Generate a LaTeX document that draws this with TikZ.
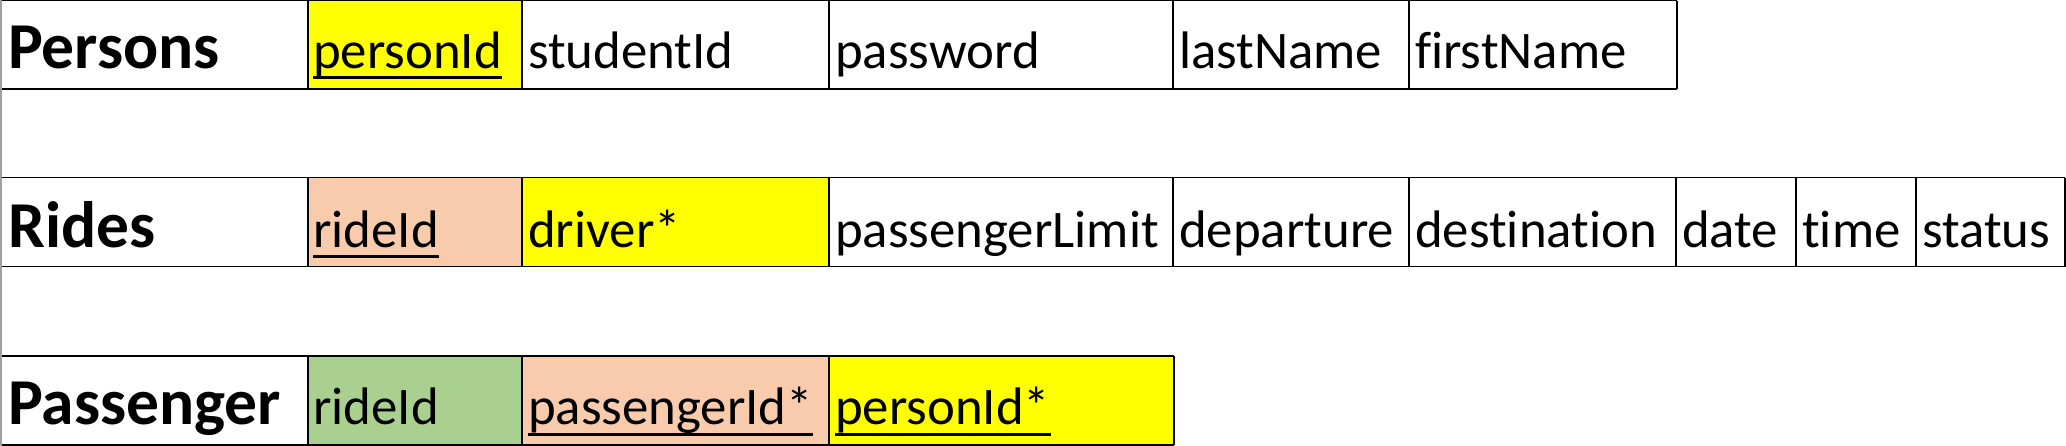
\documentclass[tikz,border=0pt]{standalone}
\usepackage{fontspec}
\setmainfont{Carlito}[Ligatures=NoCommon]
\definecolor{keyyellow}{HTML}{FFFF00}
\definecolor{keypeach}{HTML}{F8CBAD}
\definecolor{keygreen}{HTML}{A9D08E}
\definecolor{edgegray}{HTML}{A0A0A0}
\tikzset{
  cellbox/.style={draw=black, line width=1.3pt},
  fld/.style={anchor=base west, inner sep=0pt, font=\fontsize{52.8}{62}\selectfont},
  ttl/.style={anchor=base west, inner sep=0pt, font=\fontsize{65.5}{77}\selectfont\bfseries},
  uline/.style={line width=3pt},
}
\begin{document}
\begin{tikzpicture}[x=1pt,y=-1pt]
\useasboundingbox (0,0) rectangle (2066,446);
\fill[white] (0,0) rectangle (2066,446);
% ---------- fills ----------
\fill[keyyellow] (308,0.8) rectangle (522,89);
\fill[keypeach] (308,177.7) rectangle (522,266.7);
\fill[keyyellow] (522,177.7) rectangle (829,266.7);
\fill[keygreen] (308,356) rectangle (522,445);
\fill[keypeach] (522,356) rectangle (829,445);
\fill[keyyellow] (829,356) rectangle (1174,445);
% ---------- Persons row ----------
\draw[cellbox] (0,0.8) -- (1677,0.8);
\draw[cellbox] (0,89) -- (1677,89);
\foreach \x in {308,522,829,1173,1409,1677} \draw[cellbox] (\x,0.8) -- (\x,89);
% ---------- Rides row ----------
\draw[cellbox] (0,177.7) -- (2065,177.7);
\draw[cellbox] (0,266.7) -- (2065,266.7);
\foreach \x in {308,522,829,1173,1409,1676,1796,1916,2065} \draw[cellbox] (\x,177.7) -- (\x,266.7);
% ---------- Passenger row ----------
\draw[cellbox] (0,356) -- (1174,356);
\draw[cellbox] (0,445) -- (1174,445);
\foreach \x in {308,522,829,1174} \draw[cellbox] (\x,356) -- (\x,445);
% left edge
\draw[edgegray, line width=1.5pt] (0.75,0) -- (0.75,446);
% ---------- texts ----------
\node[ttl] (pT) at (8,68.5) {Persons};
\node[fld] (pA) at (313,68.5) {personId};
\node[fld] (pB) at (528,68.5) {studentId};
\node[fld] (pC) at (835,68.5) {password};
\node[fld] (pD) at (1179,68.5) {lastName};
\node[fld] (pE) at (1415,68.5) {firstName};

\node[ttl] (rT) at (8,247.5) {Rides};
\node[fld] (rA) at (313,247.5) {rideId};
\node[fld] (rB) at (528,247.5) {driver*};
\node[fld] (rC) at (835,247.5) {passengerLimit};
\node[fld] (rD) at (1179,247.5) {departure};
\node[fld] (rE) at (1415,247.5) {destination};
\node[fld] (rF) at (1682,247.5) {date};
\node[fld] (rG) at (1802,247.5) {time};
\node[fld] (rH) at (1922,247.5) {status};

\node[ttl] (aT) at (8,424.5) {Passenger};
\node[fld] (aA) at (313,424.5) {rideId};
\node[fld] (aB) at (528,424.5) {passengerId*};
\node[fld] (aC) at (835,424.5) {personId*};
% ---------- underlines ----------
\foreach \n in {pA,rA,aB,aC}
  \draw[uline] ([yshift=-9.5pt]\n.base west) -- ([yshift=-9.5pt]\n.base east);
\end{tikzpicture}
\end{document}
